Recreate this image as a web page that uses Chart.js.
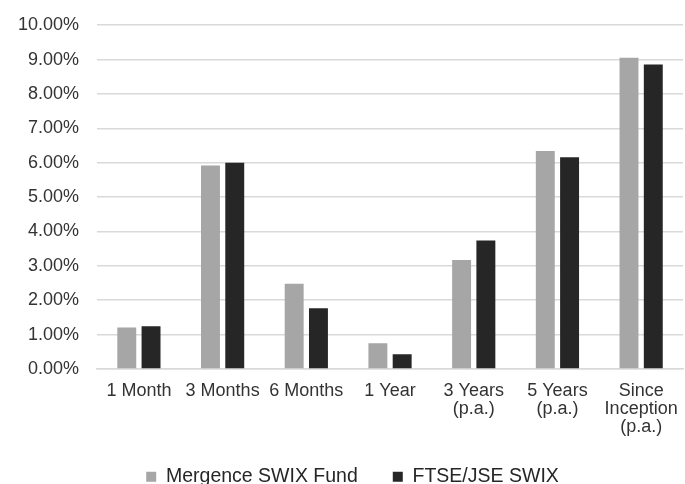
<!DOCTYPE html>
<html>
<head>
<meta charset="utf-8">
<script src="https://cdn.jsdelivr.net/npm/chart.js@4"></script>
<style>
  html, body { margin: 0; padding: 0; background: #ffffff; }
</style>
</head>
<body>
<canvas id="myChart" width="685" height="484"></canvas>
<script>
const periods = [
    '1 Month',
    '3 Months',
    '6 Months',
    '1 Year',
    ['3 Years', '(p.a.)'],
    ['5 Years', '(p.a.)'],
    ['Since', 'Inception', '(p.a.)']
];
const fundReturns = [1.21, 5.92, 2.48, 0.75, 3.17, 6.34, 9.05];
const indexReturns = [1.24, 6.00, 1.77, 0.43, 3.74, 6.16, 8.86];

// small offset so the legend sits where the original one does
const legendNudge = {
    id: 'legendNudge',
    afterLayout: function(chart) {
        const lg = chart.legend;
        lg.left += 11;
        lg.right += 11;
        lg.top -= 5;
    }
};

const ctx = document.getElementById('myChart').getContext('2d');
const myChart = new Chart(ctx, {
    type: 'bar',
    data: {
        labels: periods,
        datasets: [{
            label: 'Mergence SWIX Fund',
            data: fundReturns,
            backgroundColor: '#a6a6a6',
            borderWidth: 0
        }, {
            label: 'FTSE/JSE SWIX',
            data: indexReturns,
            backgroundColor: '#262626',
            borderWidth: 0
        }]
    },
    plugins: [legendNudge],
    options: {
        responsive: false,
        animation: false,
        datasets: {
            bar: {
                categoryPercentage: 0.58,
                barPercentage: 0.78
            }
        },
        layout: {
            padding: { top: 0, right: 2, left: 0, bottom: 0 }
        },
        plugins: {
            tooltip: { enabled: false },
            legend: {
                position: 'bottom',
                maxHeight: 47,
                labels: {
                    boxWidth: 10,
                    boxHeight: 10,
                    padding: 35,
                    color: '#262626',
                    font: { family: 'Liberation Sans', size: 19.5 }
                }
            }
        },
        scales: {
            x: {
                // tick marks hidden, tickLength only used as spacing
                grid: { display: false, drawTicks: true, tickLength: 12 },
                border: { display: true, color: '#d9d9d9', width: 1.5 },
                ticks: {
                    color: '#333333',
                    padding: 1,
                    maxRotation: 0,
                    autoSkip: false,
                    font: { family: 'Liberation Sans', size: 18, lineHeight: 1.0 }
                }
            },
            y: {
                min: 0,
                max: 10,
                border: { display: false },
                grid: { color: '#d9d9d9', lineWidth: 1.5, drawTicks: false },
                ticks: {
                    stepSize: 1,
                    padding: 18,
                    color: '#333333',
                    font: { family: 'Liberation Sans', size: 18, lineHeight: 0.8 },
                    callback: function(value) {
                        return value.toFixed(2) + '%';
                    }
                }
            }
        }
    }
});
</script>
</body>
</html>
